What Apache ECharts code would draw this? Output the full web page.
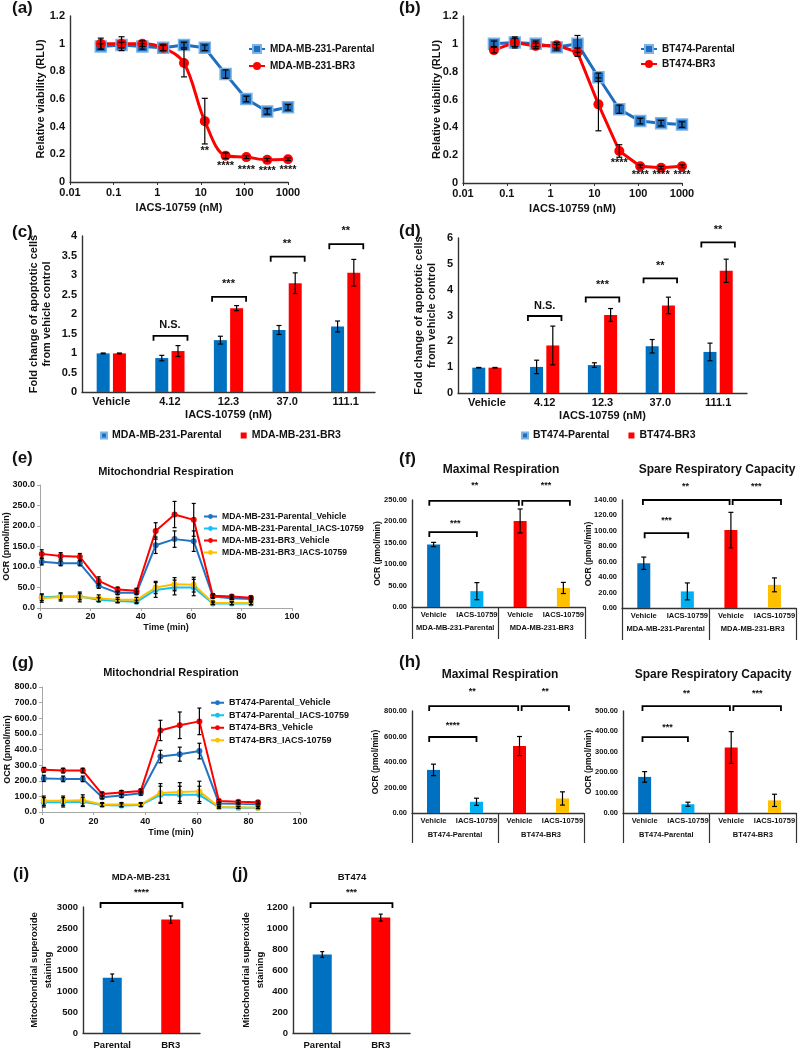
<!DOCTYPE html>
<html>
<head>
<meta charset="utf-8">
<script src="https://cdn.jsdelivr.net/npm/echarts@6/dist/echarts.min.js"></script>
<style>
  html, body { margin: 0; background: #fff; }
  #chart { width: 798px; height: 1050px; }
</style>
</head>
<body>
<div id="chart"></div>
<script>
// ---- (a)/(b) viability vs IACS-10759 dose ----
const doses = [0.0508, 0.152, 0.457, 1.372, 4.115, 12.35, 37.04, 111.1, 333.3, 1000]
const logTickLabels = ['0.01', '0.1', '1', '10', '100', '1000']
const aParental = [0.98, 0.99, 0.98, 0.97, 0.99, 0.97, 0.78, 0.6, 0.51, 0.54]
const aParentalErr = [0.02, 0.02, 0.02, 0.02, 0.02, 0.02, 0.03, 0.02, 0.02, 0.02]
const aBR3 = [1.0, 1.0, 1.0, 0.97, 0.86, 0.44, 0.19, 0.18, 0.16, 0.165]
const aBR3Err = [0.04, 0.05, 0.02, 0.02, 0.1, 0.165, 0.02, 0.01, 0.01, 0.01]
const aStars = [[12.35, 0.225, '**'], [37.04, 0.115, '****'], [111.1, 0.085, '****'], [333.3, 0.08, '****'], [1000, 0.09, '****']]
const bParental = [1.0, 1.01, 1.0, 0.975, 1.0, 0.76, 0.53, 0.445, 0.43, 0.42]
const bParentalErr = [0.02, 0.03, 0.02, 0.02, 0.06, 0.03, 0.03, 0.02, 0.02, 0.02]
const bBR3 = [0.955, 1.01, 0.985, 0.99, 0.94, 0.565, 0.23, 0.12, 0.11, 0.12]
const bBR3Err = [0.02, 0.04, 0.02, 0.02, 0.03, 0.19, 0.045, 0.01, 0.01, 0.01]
const bStars = [[37.04, 0.145, '****'], [111.1, 0.06, '****'], [333.3, 0.055, '****'], [1000, 0.06, '****']]

// ---- (c)/(d) apoptosis fold change ----
const doseCats = ['Vehicle', '4.12', '12.3', '37.0', '111.1']
const cParental = [0.99, 0.87, 1.33, 1.59, 1.68]
const cParentalErr = [0.01, 0.07, 0.1, 0.115, 0.14]
const cBR3 = [0.99, 1.05, 2.15, 2.79, 3.06]
const cBR3Err = [0.01, 0.14, 0.065, 0.265, 0.34]
const cBrackets = [[0.72, 1.3, 1.44], [1.72, 2.3, 2.44], [2.72, 3.3, 3.47], [3.72, 4.3, 3.79]]
const cSig = [[1, 1.72, 'N.S.'], [2, 2.78, '***'], [3, 3.8, '**'], [4, 4.12, '**']]
const dParental = [0.98, 1.01, 1.08, 1.81, 1.59]
const dParentalErr = [0.01, 0.26, 0.09, 0.26, 0.34]
const dBR3 = [0.98, 1.84, 3.02, 3.39, 4.73]
const dBR3Err = [0.01, 0.75, 0.25, 0.32, 0.45]
const dBrackets = [[0.71, 1.29, 2.98], [1.71, 2.29, 3.7], [2.71, 3.29, 4.44], [3.71, 4.29, 5.83]]
const dSig = [[1, 3.38, 'N.S.'], [2, 4.2, '***'], [3, 4.92, '**'], [4, 6.3, '**']]

// ---- (e)/(g) Seahorse time courses ----
const times = [0.7, 8.2, 15.8, 23.3, 30.8, 38.3, 45.9, 53.4, 61.0, 68.6, 76.1, 83.7]
const eNames = ['MDA-MB-231-Parental_Vehicle', 'MDA-MB-231-Parental_IACS-10759', 'MDA-MB-231-BR3_Vehicle', 'MDA-MB-231-BR3_IACS-10759']
const eParVeh = [113, 109, 109, 54, 37, 37, 153, 168, 163, 28, 24, 22]
const eParVehErr = [8, 6, 6, 6, 4, 4, 20, 20, 25, 4, 3, 3]
const eParIacs = [26, 28, 28, 20, 17, 15, 44, 50, 50, 11, 11, 11]
const eParIacsErr = [8, 8, 8, 5, 4, 4, 18, 18, 20, 3, 3, 3]
const eBr3Veh = [132, 127, 125, 66, 45, 42, 188, 228, 215, 30, 28, 25]
const eBr3VehErr = [10, 8, 8, 10, 6, 6, 20, 32, 40, 5, 4, 4]
const eBr3Iacs = [24, 27, 27, 24, 20, 20, 50, 58, 57, 13, 12, 12]
const eBr3IacsErr = [10, 10, 12, 8, 6, 6, 15, 16, 18, 4, 4, 4]
const gNames = ['BT474-Parental_Vehicle', 'BT474-Parental_IACS-10759', 'BT474-BR3_Vehicle', 'BT474-BR3_IACS-10759']
const gParVeh = [215, 212, 212, 95, 105, 120, 355, 370, 390, 55, 52, 50]
const gParVehErr = [20, 18, 18, 10, 12, 12, 40, 45, 50, 8, 6, 6]
const gParIacs = [62, 62, 65, 45, 42, 45, 110, 110, 110, 30, 28, 28]
const gParIacsErr = [30, 30, 30, 10, 10, 10, 55, 55, 55, 6, 6, 6]
const gBr3Veh = [270, 265, 265, 115, 125, 135, 522, 555, 580, 70, 65, 62]
const gBr3VehErr = [15, 15, 15, 12, 12, 12, 65, 85, 85, 10, 8, 8]
const gBr3Iacs = [72, 72, 75, 48, 48, 48, 122, 128, 132, 32, 30, 28]
const gBr3IacsErr = [30, 30, 35, 12, 12, 12, 60, 60, 65, 6, 6, 6]

// ---- (f)/(h) maximal respiration / spare capacity ----
const treatCats = ['Vehicle', 'IACS-10759', 'Vehicle', 'IACS-10759']
const fGroups = ['MDA-MB-231-Parental', 'MDA-MB-231-BR3']
const hGroups = ['BT474-Parental', 'BT474-BR3']
const fMax = [146, 37, 201, 44.5]
const fMaxErr = [5, 20, 28, 13]
const fSpare = [58, 21.5, 101, 30]
const fSpareErr = [8, 11, 23, 9]
const hMax = [338, 88, 525, 114]
const hMaxErr = [45, 28, 75, 52]
const hSpare = [177, 43, 321, 62]
const hSpareErr = [26, 10, 78, 30]
const fMaxBrackets = [[-0.1, 1.97, 248], [2.05, 3.15, 248], [-0.1, 1.0, 175]]
const fMaxSig = [[0.95, 283, '**'], [2.6, 283, '***'], [0.5, 196, '***']]
const fSpareBrackets = [[-0.02, 1.97, 140], [2.04, 3.15, 140], [0.02, 1.02, 97]]
const fSpareSig = [[0.96, 157, '**'], [2.58, 157, '***'], [0.52, 114, '***']]
const hMaxBrackets = [[-0.1, 1.97, 839], [2.05, 3.15, 839], [-0.1, 1.0, 596]]
const hMaxSig = [[0.9, 949, '**'], [2.6, 949, '**'], [0.45, 690, '****']]
const hSpareBrackets = [[-0.05, 1.97, 524], [2.05, 3.15, 524], [-0.05, 1.0, 372]]
const hSpareSig = [[0.97, 588, '**'], [2.6, 588, '***'], [0.53, 421, '***']]

// ---- (i)/(j) superoxide ----
const lineCats = ['Parental', 'BR3']
const iVals = [1318, 2700]
const iErr = [87, 87]
const jVals = [748, 1099]
const jErr = [27, 33]
const iBracket = [[-0.2, 1.2, 3095]]
const iSig = [[0.5, 3357, '****']]
const jBracket = [[-0.2, 1.2, 1237]]
const jSig = [[0.5, 1340, '***']]

const FONT = '"Liberation Sans", Arial, sans-serif'
const INK = '#111'
const BLUE = '#0070c0'
const RED = '#ff0000'
const LIGHT = '#00b0f0'
const GOLD = '#ffc000'
const barColors = [BLUE, LIGHT, RED, GOLD]

function txt(size, extra) {
  return Object.assign({ fontFamily: FONT, fontWeight: 'bold', fontSize: size, color: INK }, extra || {})
}

const grids = [
  { left: 70, top: 16, width: 218, height: 166 },   // a
  { left: 463, top: 16, width: 219, height: 167 },  // b
  { left: 82, top: 236, width: 293, height: 156 },  // c
  { left: 458, top: 238, width: 289, height: 155 }, // d
  { left: 40, top: 485, width: 252, height: 123 },  // e
  { left: 412, top: 500, width: 173, height: 107 }, // f left
  { left: 622, top: 500, width: 175, height: 108 }, // f right
  { left: 42, top: 687, width: 258, height: 125 },  // g
  { left: 412, top: 711, width: 172, height: 102 }, // h left
  { left: 623, top: 711, width: 174, height: 102 }, // h right
  { left: 83, top: 907, width: 117, height: 126 },  // i
  { left: 293, top: 907, width: 117, height: 126 }, // j
]

const darkLine = { show: true, lineStyle: { color: '#333', width: 1.4 } }
const greyLine = { show: true, lineStyle: { color: '#a6a6a6', width: 1 } }
const plain = (v) => String(v)

function yAxis(k, min, max, interval, size, fmt, name, nameGap, opts) {
  return Object.assign({
    type: 'value', gridIndex: k, min, max, interval,
    axisLine: darkLine, axisTick: { show: false }, splitLine: { show: false },
    axisLabel: txt(size, { formatter: fmt || plain, margin: 5 }),
    name, nameLocation: 'middle', nameGap, nameMoveOverlap: false, nameTextStyle: txt(size),
  }, opts || {})
}

function catAxis(k, data, size, margin, name, nameGap, nameSize) {
  return {
    type: 'category', gridIndex: k, data,
    axisLine: darkLine, axisTick: { show: false },
    axisLabel: txt(size, { margin, interval: 0 }),
    name, nameLocation: 'middle', nameGap, nameMoveOverlap: false, nameTextStyle: txt(nameSize || size),
  }
}

function groupAxis(k, data, size, margin, tickLen) {
  return {
    type: 'category', gridIndex: k, data, position: 'bottom',
    axisLine: { show: false },
    axisTick: { show: true, length: tickLen, lineStyle: { color: '#333', width: 1.2 } },
    axisLabel: txt(size, { margin, interval: 0 }),
  }
}

const logFmt = (v) => logTickLabels[Math.round(Math.log10(v)) + 2]

function logAxis(k) {
  return { type: 'log', gridIndex: k, logBase: 10, min: 0.01, max: 1000, axisLine: darkLine,
    axisTick: { show: true, length: 3, lineStyle: { color: '#333' } }, splitLine: { show: false },
    axisLabel: txt(11, { formatter: logFmt, margin: 5 }),
    name: 'IACS-10759 (nM)', nameLocation: 'middle', nameGap: 20, nameMoveOverlap: false, nameTextStyle: txt(11) }
}

function timeAxis(k, margin, gap) {
  return { type: 'value', gridIndex: k, min: 0, max: 100, interval: 20, axisLine: greyLine,
    axisTick: { show: true, length: 3, lineStyle: { color: '#a6a6a6' } }, splitLine: { show: false },
    axisLabel: txt(9, { margin }),
    name: 'Time (min)', nameLocation: 'middle', nameGap: gap, nameMoveOverlap: false, nameTextStyle: txt(9) }
}

const xAxes = [
  logAxis(0),
  logAxis(1),
  catAxis(2, doseCats, 11, 4, 'IACS-10759 (nM)', 17, 11),
  catAxis(3, doseCats, 11, 4, 'IACS-10759 (nM)', 17, 11),
  timeAxis(4, 4, 15),
  catAxis(5, treatCats, 7.5, 4, '', 0),
  catAxis(6, treatCats, 7.5, 4, '', 0),
  timeAxis(7, 5, 16),
  catAxis(8, treatCats, 7.5, 4, '', 0),
  catAxis(9, treatCats, 7.5, 4, '', 0),
  catAxis(10, lineCats, 9.5, 7, '', 0),
  catAxis(11, lineCats, 9.5, 7, '', 0),
  groupAxis(5, fGroups, 7.5, 17, 32),
  groupAxis(6, fGroups, 7.5, 17, 32),
  groupAxis(8, hGroups, 7.5, 18, 30),
  groupAxis(9, hGroups, 7.5, 18, 30),
]

const fix1 = (v) => v.toFixed(1)
const fix2 = (v) => v.toFixed(2)
const twoLine = { lineHeight: 13 }
const greyY = { axisLine: greyLine, axisTick: { show: true, length: 3, lineStyle: { color: '#a6a6a6' } } }

const yAxes = [
  yAxis(0, 0, 1.2, 0.2, 11, null, 'Relative viability (RLU)', 24),
  yAxis(1, 0, 1.2, 0.2, 11, null, 'Relative viability (RLU)', 21),
  yAxis(2, 0, 4, 0.5, 11, null, 'Fold change of apoptotic cells\nfrom vehicle control', 29, { nameTextStyle: txt(11, twoLine) }),
  yAxis(3, 0, 6, 1, 11, null, 'Fold change of apoptotic cells\nfrom vehicle control', 20, { nameTextStyle: txt(11, twoLine) }),
  yAxis(4, 0, 300, 50, 9, fix1, 'OCR (pmol/min)', 29, greyY),
  yAxis(5, 0, 250, 50, 7.5, fix2, 'OCR (pmol/min)', 30, { nameTextStyle: txt(8.5) }),
  yAxis(6, 0, 140, 20, 7.5, fix2, 'OCR (pmol/min)', 29, { nameTextStyle: txt(8.5) }),
  yAxis(7, 0, 800, 100, 9, fix1, 'OCR (pmol/min)', 30, greyY),
  yAxis(8, 0, 800, 200, 7.5, fix2, 'OCR (pmol/min)', 32, { nameTextStyle: txt(8.5) }),
  yAxis(9, 0, 500, 100, 7.5, fix2, 'OCR (pmol/min)', 30, { nameTextStyle: txt(8.5) }),
  yAxis(10, 0, 3000, 500, 9.5, null, 'Mitochondrial superoxide\nstaining', 28, { nameTextStyle: txt(9.5, { lineHeight: 14 }) }),
  yAxis(11, 0, 1200, 200, 9.5, null, 'Mitochondrial superoxide\nstaining', 26, { nameTextStyle: txt(9.5, { lineHeight: 14 }) }),
]

// x pixel of a (possibly fractional) position on an axis
function xPx(api, x, y, cat) {
  if (!cat) return api.coord([x, y])[0]
  const k = Math.round(x)
  return api.coord([k, y])[0] + (x - k) * api.size([1, 0])[0]
}

function errBars(k, xs, ys, errs, dx, cap) {
  return {
    type: 'custom', xAxisIndex: k, yAxisIndex: k, z: 5, silent: true,
    data: ys.map((y, i) => [xs[i], y]),
    renderItem(params, api) {
      const i = params.dataIndex
      const top = api.coord([xs[i], ys[i] + errs[i]])
      const bot = api.coord([xs[i], ys[i] - errs[i]])
      const x = top[0] + dx
      const st = { stroke: '#000', lineWidth: 1.2 }
      return { type: 'group', children: [
        { type: 'line', shape: { x1: x, y1: top[1], x2: x, y2: bot[1] }, style: st },
        { type: 'line', shape: { x1: x - cap, y1: top[1], x2: x + cap, y2: top[1] }, style: st },
        { type: 'line', shape: { x1: x - cap, y1: bot[1], x2: x + cap, y2: bot[1] }, style: st },
      ] }
    },
  }
}

function brackets(k, items, tick) {
  return {
    type: 'custom', xAxisIndex: k, yAxisIndex: k, z: 5, silent: true,
    data: items.map((b) => [Math.max(0, Math.round(b[0])), b[2]]),
    renderItem(params, api) {
      const [x1, x2, y] = items[params.dataIndex]
      const py = api.coord([0, y])[1]
      const p1 = xPx(api, x1, y, true)
      const p2 = xPx(api, x2, y, true)
      return { type: 'polyline',
        shape: { points: [[p1, py + tick], [p1, py], [p2, py], [p2, py + tick]] },
        style: { stroke: '#000', lineWidth: 1.8, fill: null } }
    },
  }
}

function notes(k, items, size, cat) {
  return {
    type: 'custom', xAxisIndex: k, yAxisIndex: k, z: 6, silent: true,
    data: items.map((t) => [cat ? Math.round(t[0]) : t[0], t[1]]),
    renderItem(params, api) {
      const [x, y, s] = items[params.dataIndex]
      return { type: 'text', x: xPx(api, x, y, cat), y: api.coord([0, y])[1],
        style: { text: s, fill: INK, font: `bold ${size}px ${FONT}`, align: 'center', verticalAlign: 'middle' } }
    },
  }
}

function doseLine(k, name, ys, color, symbol, smooth) {
  return {
    type: 'line', name, xAxisIndex: k, yAxisIndex: k, z: 3, smooth: smooth ? 0.35 : false,
    data: ys.map((y, i) => [doses[i], y]),
    symbol, symbolSize: symbol === 'rect' ? 11 : 10,
    lineStyle: { color, width: 3 },
    itemStyle: symbol === 'rect' ? { color, borderColor: '#7fb2e5', borderWidth: 1.5 } : { color },
  }
}

function timeLine(k, name, ys, color) {
  return {
    type: 'line', name, xAxisIndex: k, yAxisIndex: k, z: 3,
    data: ys.map((y, i) => [times[i], y]),
    symbol: 'circle', symbolSize: 6,
    lineStyle: { color, width: 2 }, itemStyle: { color },
  }
}

function groupBar(k, name, ys, color, w) {
  return { type: 'bar', name, xAxisIndex: k, yAxisIndex: k, data: ys, barWidth: w, barGap: '25%', itemStyle: { color } }
}

function colorBar(k, ys, colors, w) {
  return { type: 'bar', xAxisIndex: k, yAxisIndex: k, barWidth: w,
    data: ys.map((v, i) => ({ value: v, itemStyle: { color: colors[i] } })) }
}

const idx4 = [0, 1, 2, 3]
const idx5 = [0, 1, 2, 3, 4]
const barOff = 8.1

const series = [
  doseLine(0, 'MDA-MB-231-Parental', aParental, '#1f6fc0', 'rect'),
  doseLine(0, 'MDA-MB-231-BR3', aBR3, RED, 'circle', true),
  errBars(0, doses, aParental, aParentalErr, 0, 3),
  errBars(0, doses, aBR3, aBR3Err, 0, 3),
  notes(0, aStars, 11, false),
  doseLine(1, 'BT474-Parental', bParental, '#1f6fc0', 'rect'),
  doseLine(1, 'BT474-BR3', bBR3, RED, 'circle'),
  errBars(1, doses, bParental, bParentalErr, 0, 3),
  errBars(1, doses, bBR3, bBR3Err, 0, 3),
  notes(1, bStars, 11, false),

  groupBar(2, 'MDA-MB-231-Parental', cParental, BLUE, 13),
  groupBar(2, 'MDA-MB-231-BR3', cBR3, RED, 13),
  errBars(2, idx5, cParental, cParentalErr, -barOff, 2.5),
  errBars(2, idx5, cBR3, cBR3Err, barOff, 2.5),
  brackets(2, cBrackets, 5),
  notes(2, cSig, 11, true),
  groupBar(3, 'BT474-Parental', dParental, BLUE, 13),
  groupBar(3, 'BT474-BR3', dBR3, RED, 13),
  errBars(3, idx5, dParental, dParentalErr, -barOff, 2.5),
  errBars(3, idx5, dBR3, dBR3Err, barOff, 2.5),
  brackets(3, dBrackets, 5),
  notes(3, dSig, 11, true),

  timeLine(4, eNames[0], eParVeh, '#2272c3'),
  timeLine(4, eNames[1], eParIacs, '#18c0f2'),
  timeLine(4, eNames[2], eBr3Veh, RED),
  timeLine(4, eNames[3], eBr3Iacs, GOLD),
  errBars(4, times, eParVeh, eParVehErr, 0, 2),
  errBars(4, times, eParIacs, eParIacsErr, 0, 2),
  errBars(4, times, eBr3Veh, eBr3VehErr, 0, 2),
  errBars(4, times, eBr3Iacs, eBr3IacsErr, 0, 2),

  colorBar(5, fMax, barColors, 13),
  errBars(5, idx4, fMax, fMaxErr, 0, 2.5),
  brackets(5, fMaxBrackets, 5),
  notes(5, fMaxSig, 9, true),
  colorBar(6, fSpare, barColors, 13),
  errBars(6, idx4, fSpare, fSpareErr, 0, 2.5),
  brackets(6, fSpareBrackets, 5),
  notes(6, fSpareSig, 9, true),

  timeLine(7, gNames[0], gParVeh, '#2272c3'),
  timeLine(7, gNames[1], gParIacs, '#18c0f2'),
  timeLine(7, gNames[2], gBr3Veh, RED),
  timeLine(7, gNames[3], gBr3Iacs, GOLD),
  errBars(7, times, gParVeh, gParVehErr, 0, 2),
  errBars(7, times, gParIacs, gParIacsErr, 0, 2),
  errBars(7, times, gBr3Veh, gBr3VehErr, 0, 2),
  errBars(7, times, gBr3Iacs, gBr3IacsErr, 0, 2),

  colorBar(8, hMax, barColors, 13),
  errBars(8, idx4, hMax, hMaxErr, 0, 2.5),
  brackets(8, hMaxBrackets, 5),
  notes(8, hMaxSig, 9, true),
  colorBar(9, hSpare, barColors, 13),
  errBars(9, idx4, hSpare, hSpareErr, 0, 2.5),
  brackets(9, hSpareBrackets, 5),
  notes(9, hSpareSig, 9, true),

  colorBar(10, iVals, [BLUE, RED], 19),
  errBars(10, [0, 1], iVals, iErr, 0, 2),
  brackets(10, iBracket, 5),
  notes(10, iSig, 9.5, true),
  colorBar(11, jVals, [BLUE, RED], 19),
  errBars(11, [0, 1], jVals, jErr, 0, 2),
  brackets(11, jBracket, 5),
  notes(11, jSig, 9.5, true),
]

function panelTitle(text, left, top, size, center) {
  return { text, left, top, padding: 0, textAlign: center ? 'center' : 'left', textStyle: txt(size) }
}

const titles = [
  panelTitle('(a)', 12, 0, 17), panelTitle('(b)', 399, 0, 17),
  panelTitle('(c)', 12, 224, 17), panelTitle('(d)', 399, 223, 17),
  panelTitle('(e)', 12, 450, 17), panelTitle('(f)', 399, 451, 17),
  panelTitle('(g)', 12, 655, 17), panelTitle('(h)', 399, 654, 17),
  panelTitle('(i)', 13, 866, 17), panelTitle('(j)', 232, 866, 17),
  panelTitle('Mitochondrial Respiration', 166, 466, 11, true),
  panelTitle('Mitochondrial Respiration', 171, 667, 11, true),
  panelTitle('Maximal Respiration', 501, 464, 12, true),
  panelTitle('Spare Respiratory Capacity', 717, 464, 12, true),
  panelTitle('Maximal Respiration', 500, 669, 12, true),
  panelTitle('Spare Respiratory Capacity', 713, 669, 12, true),
  panelTitle('MDA-MB-231', 141, 872, 9.5, true),
  panelTitle('BT474', 352, 872, 9.5, true),
]

const legends = [
  { data: ['MDA-MB-231-Parental', 'MDA-MB-231-BR3'], left: 248, top: 44, orient: 'vertical', itemGap: 7,
    itemWidth: 16, itemHeight: 10, textStyle: txt(10), padding: 0 },
  { data: ['BT474-Parental', 'BT474-BR3'], left: 640, top: 44, orient: 'vertical', itemGap: 5,
    itemWidth: 16, itemHeight: 10, textStyle: txt(10), padding: 0 },
  { data: ['MDA-MB-231-Parental', 'MDA-MB-231-BR3'], left: 100, top: 430, icon: 'rect', itemGap: 19,
    itemWidth: 6, itemHeight: 6, textStyle: txt(10.5), padding: 0 },
  { data: ['BT474-Parental', 'BT474-BR3'], left: 521, top: 430, icon: 'rect', itemGap: 19,
    itemWidth: 6, itemHeight: 6, textStyle: txt(10.5), padding: 0 },
  { data: eNames, left: 203, top: 512, orient: 'vertical', itemGap: 3,
    itemWidth: 13, itemHeight: 6, textStyle: txt(8.6, { lineHeight: 9 }), padding: 0 },
  { data: gNames, left: 210, top: 698, orient: 'vertical', itemGap: 3,
    itemWidth: 13, itemHeight: 6, textStyle: txt(9, { lineHeight: 9.5 }), padding: 0 },
]

const chart = echarts.init(document.getElementById('chart'))
chart.setOption({
  animation: false,
  backgroundColor: '#fff',
  textStyle: { fontFamily: FONT },
  title: titles,
  legend: legends,
  grid: grids,
  xAxis: xAxes,
  yAxis: yAxes,
  series,
})
</script>
</body>
</html>
